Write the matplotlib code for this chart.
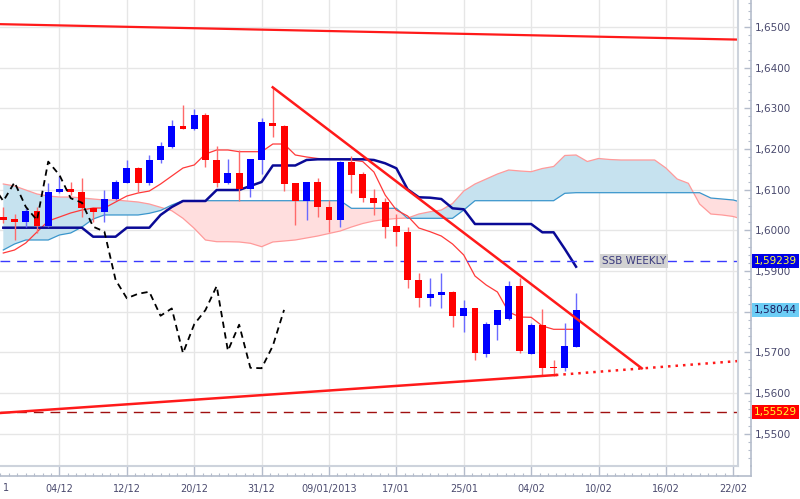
import matplotlib
matplotlib.use("Agg")
import matplotlib.pyplot as plt
import matplotlib.transforms as mtransforms
from matplotlib.lines import Line2D
from matplotlib.ticker import FixedLocator, FuncFormatter
import numpy as np

# ---------------- data ----------------
opens = [1.6032, 1.6028, 1.6020, 1.6048, 1.6011, 1.6094, 1.6101, 1.6095, 1.6054, 1.6046,
         1.6077, 1.6117, 1.6153, 1.6116, 1.6172, 1.6206, 1.6257, 1.6248, 1.6284, 1.6173,
         1.6116, 1.6142, 1.6101, 1.6172, 1.6265, 1.6257, 1.6116, 1.6072, 1.6118, 1.6058,
         1.6025, 1.6169, 1.6138, 1.6079, 1.6069, 1.6011, 1.5997, 1.5878, 1.5833, 1.5841,
         1.5849, 1.5790, 1.5808, 1.5696, 1.5767, 1.5781, 1.5862, 1.5696, 1.5768, 1.5664,
         1.5661, 1.5714]
highs = [1.6058, 1.6040, 1.6054, 1.6058, 1.6116, 1.6134, 1.6120, 1.6128, 1.6058, 1.6098,
         1.6124, 1.6173, 1.6155, 1.6185, 1.6218, 1.6271, 1.6308, 1.6298, 1.6288, 1.6207,
         1.6175, 1.6198, 1.6176, 1.6277, 1.6352, 1.6259, 1.6117, 1.6119, 1.6128, 1.6075,
         1.6170, 1.6183, 1.6144, 1.6101, 1.6079, 1.6040, 1.6008, 1.5894, 1.5882, 1.5894,
         1.5852, 1.5829, 1.5809, 1.5775, 1.5805, 1.5876, 1.5882, 1.5771, 1.5806, 1.5681,
         1.5771, 1.5847]
lows = [1.6017, 1.5976, 1.6009, 1.5994, 1.6009, 1.6093, 1.6087, 1.6032, 1.6021, 1.6021,
        1.6075, 1.6116, 1.6094, 1.6111, 1.6165, 1.6202, 1.6248, 1.6247, 1.6157, 1.6107,
        1.6114, 1.6073, 1.6083, 1.6139, 1.6230, 1.6097, 1.6013, 1.6025, 1.6034, 1.5997,
        1.6009, 1.6093, 1.6070, 1.6038, 1.5980, 1.5962, 1.5858, 1.5812, 1.5814, 1.5808,
        1.5763, 1.5751, 1.5681, 1.5689, 1.5730, 1.5780, 1.5698, 1.5695, 1.5642, 1.5642,
        1.5655, 1.5712]
closes = [1.6025, 1.6021, 1.6048, 1.6011, 1.6095, 1.6101, 1.6094, 1.6054, 1.6046, 1.6077,
          1.6120, 1.6153, 1.6116, 1.6173, 1.6207, 1.6257, 1.6249, 1.6284, 1.6173, 1.6116,
          1.6142, 1.6101, 1.6175, 1.6266, 1.6257, 1.6113, 1.6072, 1.6118, 1.6058, 1.6025,
          1.6169, 1.6136, 1.6079, 1.6068, 1.6009, 1.5997, 1.5878, 1.5833, 1.5844, 1.5849,
          1.5790, 1.5808, 1.5698, 1.5769, 1.5804, 1.5863, 1.5704, 1.5768, 1.5662, 1.5661,
          1.5716, 1.58044]

tenkan = [1.59443, 1.59517, 1.59689, 1.59960, 1.60230, 1.60328, 1.60427, 1.60500, 1.60549, 1.60549,
          1.60697, 1.60844, 1.60918, 1.60967, 1.61139, 1.61336, 1.61533, 1.61607, 1.61877, 1.61976,
          1.61976, 1.61934, 1.61934, 1.61934, 1.62123, 1.62123, 1.61853, 1.61804, 1.61767, 1.61747,
          1.61747, 1.61730, 1.61693, 1.61435, 1.60869, 1.60500, 1.60353, 1.60058, 1.59967, 1.59861,
          1.59665, 1.59394, 1.58877, 1.58656, 1.58484, 1.57992, 1.57869, 1.57862, 1.57648, 1.57567,
          1.57567, 1.57567]
kijun = [1.60065, 1.60065, 1.60065, 1.60065, 1.60065, 1.60065, 1.60065, 1.60065, 1.59844, 1.59844,
         1.59844, 1.60065, 1.60065, 1.60065, 1.60378, 1.60574, 1.60722, 1.60722, 1.60722, 1.60992,
         1.60992, 1.60992, 1.61091, 1.61189, 1.61595, 1.61595, 1.61595, 1.61730, 1.61747, 1.61747,
         1.61747, 1.61747, 1.61747, 1.61730, 1.61649, 1.61526, 1.61009, 1.60813, 1.60803, 1.60771,
         1.60542, 1.60518, 1.60156, 1.60156, 1.60156, 1.60156, 1.60156, 1.60156, 1.59952, 1.59952,
         1.59541, 1.59106]
senkou_a = [1.61140, 1.61091, 1.60992, 1.60894, 1.60845, 1.60820, 1.60820, 1.60796, 1.60771, 1.60746,
            1.60746, 1.60722, 1.60697, 1.60648, 1.60567, 1.60483, 1.60296, 1.60050, 1.59763, 1.59721,
            1.59721, 1.59714, 1.59682, 1.59598, 1.59714, 1.59738, 1.59763, 1.59812, 1.59861, 1.59923,
            1.59984, 1.60082, 1.60168, 1.60230, 1.60267, 1.60291, 1.60303, 1.60402, 1.60458, 1.60500,
            1.60660, 1.60967, 1.61140, 1.61263, 1.61386, 1.61484, 1.61460, 1.61442, 1.61521, 1.61570,
            1.61841, 1.61853, 1.61693, 1.61767, 1.61742, 1.61730, 1.61730, 1.61730, 1.61730, 1.61533,
            1.61263, 1.61157, 1.60648, 1.60402, 1.60378, 1.60341, 1.60255]
senkou_b = [1.59517, 1.59664, 1.59763, 1.59763, 1.59763, 1.59886, 1.59935, 1.60082, 1.60279, 1.60378,
            1.60378, 1.60378, 1.60378, 1.60419, 1.60488, 1.60623, 1.60729, 1.60729, 1.60729, 1.60729,
            1.60729, 1.60729, 1.60729, 1.60729, 1.60729, 1.60729, 1.60729, 1.60729, 1.60729, 1.60729,
            1.60729, 1.60542, 1.60542, 1.60542, 1.60542, 1.60542, 1.60296, 1.60296, 1.60296, 1.60296,
            1.60296, 1.60500, 1.60729, 1.60729, 1.60729, 1.60729, 1.60729, 1.60729, 1.60729, 1.60729,
            1.60911, 1.60926, 1.60926, 1.60926, 1.60926, 1.60926, 1.60926, 1.60926, 1.60926, 1.60926,
            1.60926, 1.60926, 1.60926, 1.60795, 1.60771, 1.60746, 1.60672]
chikou_shift = 26

date_labels = ["1", "04/12", "12/12", "20/12", "31/12", "09/01/2013", "17/01",
               "25/01", "04/02", "10/02", "16/02", "22/02"]
date_positions = [-1, 5, 11, 17, 23, 29, 35, 41, 47, 53, 59, 65]

# drawn trend lines (index, price)
resist_top = ([-0.3, 65.5], [1.6507, 1.6469])
down_trend = ([23.99, 56.85], [1.63517, 1.56608])
support_solid = ([-0.3, 49.2], [1.55509, 1.56443])
support_dotted = ([49.2, 65.5], [1.56443, 1.56788])
ssb_weekly = 1.59239
level_low = 1.55529
last_close_label = 1.58044

# ---------------- figure ----------------
fig = plt.figure(figsize=(8.0, 4.99), dpi=100)
ax = fig.add_axes([0.0, 33 / 499, 738 / 800, 466 / 499])
ax.set_facecolor("white")

xlim = (-0.294, 65.42)
ylim = (1.542059, 1.656639)
ax.set_xlim(*xlim)
ax.set_ylim(*ylim)

txt_col = "#4a4a6e"
grid_col = "#e6e6e6"

# grid
for p in date_positions:
    ax.axvline(p, color=grid_col, lw=1.0, zorder=0)
for v in np.arange(1.55, 1.6501, 0.01):
    ax.axhline(v, color=grid_col, lw=1.0, zorder=0)

# cloud
xs_c = np.arange(len(senkou_a))
A = np.array(senkou_a)
B = np.array(senkou_b)
ax.fill_between(xs_c, A, B, where=A >= B, interpolate=True, color="#c6e2ef", lw=0, zorder=1)
ax.fill_between(xs_c, A, B, where=A < B, interpolate=True, color="#ffdede", lw=0, zorder=1)
ax.plot(xs_c, A, color="#ff9a9a", lw=0.9, zorder=2)
ax.plot(xs_c, B, color="#3a96cc", lw=0.9, zorder=2)

# tenkan / kijun
xs = np.arange(len(closes))
ax.plot(xs, tenkan, color="#ff3a3a", lw=0.9, zorder=3)
ax.plot(xs, kijun, color="#0a0a96", lw=1.8, zorder=3)

# candles
O = np.array(opens); C = np.array(closes); H = np.array(highs); L = np.array(lows)
up = C >= O
body_col = np.where(up, "#0000ff", "#ff0000")
wick_col = np.where(up, "#6a6aff", "#ff6a6a")
ax.vlines(xs, L, H, colors=wick_col, lw=1.0, zorder=4)
heights = np.maximum(np.abs(C - O), 0.00025)
ax.bar(xs, heights, bottom=np.minimum(O, C), width=0.62, color=body_col, lw=0, zorder=5)

# chikou
ck_x = np.arange(chikou_shift - 1, len(closes)) - chikou_shift
ck_y = C[chikou_shift - 1:]
ax.plot(ck_x, ck_y, color="black", lw=1.3, dashes=(3.5, 2.5), zorder=6)

# horizontal levels
ax.axhline(ssb_weekly, color="#3a3aff", lw=1.0, dashes=(7, 5), zorder=3)
ax.axhline(level_low, color="#a01010", lw=1.0, dashes=(7, 5), zorder=3)

# trend lines
ax.plot(*resist_top, color="#ff1a1a", lw=1.6, zorder=7)
ax.plot(*down_trend, color="#ff1a1a", lw=1.8, zorder=7)
ax.plot(*support_solid, color="#ff1a1a", lw=1.8, zorder=7)
ax.plot(*support_dotted, color="#ff1a1a", lw=1.8, ls=(0, (1, 2)), zorder=7)

# SSB WEEKLY label
ax.text(56.2, ssb_weekly, "SSB WEEKLY", ha="center", va="center", fontsize=7.5,
        color="#3b3b7e", zorder=8,
        bbox=dict(boxstyle="square,pad=0.18", fc="#d2d2d2", ec="none"))

# axes styling
for s in ["left", "top"]:
    ax.spines[s].set_visible(False)
axis_col = "#b4bccb"
ax.spines["right"].set_position(("outward", 9.4))
ax.spines["bottom"].set_position(("outward", 7.2))
ax.spines["right"].set_color(axis_col)
ax.spines["bottom"].set_color(axis_col)
ax.spines["right"].set_linewidth(1.2)
ax.spines["bottom"].set_linewidth(1.2)

# inner frame lines
ax.plot([1, 1], [0, 1], transform=ax.transAxes, color="#cdd3dc", lw=1.5, clip_on=False, zorder=9)
ax.plot([0, 1], [0, 0], transform=ax.transAxes, color="#cdd3dc", lw=1.5, clip_on=False, zorder=9)
fig.add_artist(Line2D([738 / 800, 751 / 800], [1 - 476 / 499] * 2, color=axis_col, lw=1.2))
fig.add_artist(Line2D([751 / 800] * 2, [1 - 466 / 499, 1 - 476 / 499], color=axis_col, lw=1.2))

# y labels hidden behind the price boxes are left blank
covered = {round(last_close_label, 2)}
def yfmt(v, _):
    if round(v, 2) in covered:
        return ""
    return f"{v:.4f}".replace(".", ",")

ax.yaxis.tick_right()
ax.yaxis.set_major_locator(FixedLocator(np.arange(1.55, 1.6501, 0.01)))
ax.yaxis.set_minor_locator(FixedLocator(np.arange(1.544, 1.657, 0.002)))
ax.yaxis.set_major_formatter(FuncFormatter(yfmt))
ax.tick_params(axis="y", which="major", direction="in", length=5, width=1, color=axis_col,
               labelsize=7.5, labelcolor=txt_col, pad=3)
ax.tick_params(axis="y", which="minor", direction="in", length=2.5, width=0.8, color=axis_col)

ax.xaxis.set_major_locator(FixedLocator(date_positions[1:]))
ax.xaxis.set_major_formatter(FuncFormatter(lambda v, pos: date_labels[date_positions.index(int(round(v)))]))
ax.xaxis.set_minor_locator(FixedLocator(np.arange(-1, 66, 0.75)))
ax.tick_params(axis="x", which="major", direction="in", length=7.2, width=1, color=axis_col,
               labelsize=7, labelcolor=txt_col, pad=5.5)
ax.tick_params(axis="x", which="minor", direction="in", length=2.5, width=0.8, color=axis_col)

# visible tail of the first (cut-off) date label
ax.text(0.004, -0.0365, date_labels[0], transform=ax.transAxes,
        ha="left", va="top", fontsize=7, color=txt_col, clip_on=False)

# price boxes
def price_box(price, fc, tc):
    ax.annotate(f"{price:.5f}".replace(".", ","), xy=(1, price), xycoords=ax.get_yaxis_transform(),
                xytext=(11.3, 0), textcoords="offset points", ha="left", va="center",
                fontsize=7.5, color=tc, annotation_clip=False, zorder=20,
                bbox=dict(boxstyle="square,pad=0.2", fc=fc, ec="none"))

price_box(ssb_weekly, "#0000e6", "#ffff33")
price_box(last_close_label, "#6ccdf5", "#1c1c5c")
price_box(level_low, "#ff0000", "#ffff33")

fig.savefig("out.png", dpi=100)
